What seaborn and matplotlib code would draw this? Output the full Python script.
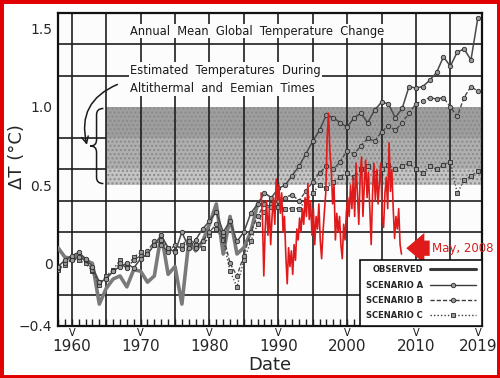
import matplotlib
matplotlib.use("Agg")
import matplotlib.pyplot as plt
import matplotlib.patches as mpatches
import matplotlib.transforms as mtransforms
from matplotlib.path import Path
from matplotlib.lines import Line2D
from matplotlib.ticker import MultipleLocator
import numpy as np
import seaborn as sns

# observed annual means
obs_years = list(range(1958, 1988))
obs_temp = [0.10, 0.04, 0.03, 0.06, 0.02, 0.00, -0.26, -0.16, -0.10, -0.08,
            -0.15, -0.04, -0.05, -0.12, -0.08, 0.19, -0.07, -0.02, -0.26, 0.14,
            0.08, 0.14, 0.25, 0.38, 0.06, 0.30, 0.06, 0.10, 0.20, 0.38]

# model scenarios 1958-2019
model_years = list(range(1958, 2020))
scen_a = [-0.02, 0.02, 0.05, 0.07, 0.03, -0.02, -0.12, -0.10, -0.05, -0.02,
          0.00, -0.03, 0.03, 0.06, 0.12, 0.18, 0.10, 0.07, 0.20, 0.10,
          0.15, 0.22, 0.27, 0.33, 0.20, 0.27, 0.14, 0.20, 0.32, 0.38,
          0.45, 0.42, 0.48, 0.50, 0.56, 0.62, 0.70, 0.78, 0.85, 0.95,
          0.93, 0.90, 0.87, 0.93, 0.96, 0.90, 0.98, 1.03, 1.02, 0.93,
          0.99, 1.13, 1.12, 1.13, 1.17, 1.22, 1.32, 1.26, 1.35, 1.37,
          1.30, 1.57]
scen_b = [-0.03, 0.00, 0.02, 0.04, 0.02, -0.04, -0.12, -0.10, -0.05, 0.00,
          -0.03, 0.02, 0.05, 0.08, 0.14, 0.12, 0.07, 0.12, 0.09, 0.14,
          0.10, 0.14, 0.20, 0.25, 0.18, 0.00, -0.08, 0.05, 0.20, 0.30,
          0.38, 0.36, 0.40, 0.42, 0.44, 0.40, 0.46, 0.52, 0.58, 0.62,
          0.60, 0.65, 0.72, 0.70, 0.75, 0.80, 0.78, 0.84, 0.88, 0.85,
          0.90, 0.96, 1.02, 1.04, 1.06, 1.05, 1.06, 1.00, 0.94, 1.06,
          1.13, 1.10]
scen_c = [-0.04, -0.01, 0.03, 0.02, 0.00, -0.05, -0.14, -0.08, -0.04, 0.02,
          -0.02, 0.04, 0.07, 0.06, 0.12, 0.15, 0.10, 0.08, 0.12, 0.16,
          0.12, 0.10, 0.18, 0.22, 0.15, -0.05, -0.15, 0.02, 0.14, 0.25,
          0.33, 0.38, 0.36, 0.35, 0.35, 0.35, 0.40, 0.45, 0.50, 0.48,
          0.52, 0.55, 0.58, 0.55, 0.60, 0.62, 0.58, 0.60, 0.63, 0.60,
          0.62, 0.64, 0.60, 0.58, 0.62, 0.60, 0.63, 0.65, 0.45, 0.53,
          0.56, 0.59]

# red overlay (monthly anomalies up to May 2008)
red_years = [1987.5, 1987.7, 1987.9, 1988.1, 1988.3, 1988.5, 1988.7, 1988.9, 1989.1, 1989.3,
             1989.5, 1989.7, 1989.9, 1990.1, 1990.3, 1990.5, 1990.7, 1990.9, 1991.1, 1991.3,
             1991.5, 1991.7, 1991.9, 1992.1, 1992.3, 1992.5, 1992.7, 1992.9, 1993.1, 1993.3,
             1993.5, 1993.7, 1993.9, 1994.1, 1994.3, 1994.5, 1994.7, 1994.9, 1995.1, 1995.3,
             1995.5, 1995.7, 1995.9, 1996.1, 1996.3, 1996.5, 1996.7, 1996.9, 1997.1, 1997.3,
             1997.5, 1997.7, 1997.9, 1998.1, 1998.3, 1998.5, 1998.7, 1998.9, 1999.1, 1999.3,
             1999.5, 1999.7, 1999.9, 2000.1, 2000.3, 2000.5, 2000.7, 2000.9, 2001.1, 2001.3,
             2001.5, 2001.7, 2001.9, 2002.1, 2002.3, 2002.5, 2002.7, 2002.9, 2003.1, 2003.3,
             2003.5, 2003.7, 2003.9, 2004.1, 2004.3, 2004.5, 2004.7, 2004.9, 2005.1, 2005.3,
             2005.5, 2005.7, 2005.9, 2006.1, 2006.3, 2006.5, 2006.7, 2006.9, 2007.1, 2007.3,
             2007.5, 2007.7, 2007.9]
red_temp = [0.45, 0.30, -0.08, 0.22, 0.40, 0.18, 0.35, 0.12, 0.30, 0.42,
            0.25, 0.54, 0.40, 0.50, 0.32, 0.45, 0.20, 0.30, 0.05, -0.13,
            0.10, -0.02, 0.08, -0.07, 0.12, 0.02, 0.22, 0.15, 0.29, 0.20,
            0.35, 0.25, 0.42, 0.30, 0.51, 0.28, 0.40, 0.18, 0.35, 0.12,
            0.30, 0.22, 0.38, 0.15, 0.03, 0.20, 0.33, 0.45, 0.80, 0.96,
            0.72, 0.60, 0.38, 0.50, 0.15, 0.32, 0.20, 0.30, 0.12, 0.03,
            0.25, 0.15, 0.33, 0.42, 0.30, 0.50, 0.35, 0.55, 0.30, 0.64,
            0.45, 0.25, 0.55, 0.68, 0.30, 0.50, 0.66, 0.42, 0.58, 0.35,
            0.12, 0.45, 0.64, 0.40, 0.60, 0.38, 0.52, 0.64, 0.30, 0.23,
            0.45, 0.55, 0.35, 0.77, 0.46, 0.60, 0.35, 0.16, 0.30, 0.22,
            0.35, 0.12, 0.06]

# shaded range for Altithermal / Eemian estimates
band_start = 1965
band_edges = [0.5, 0.6, 0.8, 1.0]
band_colors = ["#c4c4c4", "#afafaf", "#9e9e9e"]

x_ticks = [1960, 1970, 1980, 1990, 2000, 2010, 2019]
y_ticks = [-0.4, 0, 0.5, 1.0, 1.5]
y_tick_labels = ["\u22120.4", "0", "0.5", "1.0", "1.5"]

sns.set_theme(style="white")
plt.rcParams["font.family"] = ["DejaVu Sans"]

fig = plt.figure(figsize=(5.0, 3.78), dpi=100)
fig.patch.set_facecolor("white")
ax = fig.add_axes([0.116, 0.1376, 0.848, 0.828])
ax.set_facecolor("#fcfcfc")

x_min, x_max = 1958, 2019.6
ax.set_xlim(x_min, x_max)
ax.set_ylim(-0.4, 1.6)

# shaded band
for lo, hi, c in zip(band_edges[:-1], band_edges[1:], band_colors):
    ax.fill_between([band_start, x_max], lo, hi, color=c, hatch="....",
                    edgecolor="#8a8a8a", linewidth=0, zorder=1)

# grid
ax.yaxis.set_minor_locator(MultipleLocator(0.2))
ax.grid(which="minor", axis="y", color="#1e1e1e", lw=1.2, zorder=2)
ax.grid(which="major", axis="y", visible=False)
ax.vlines(np.arange(1960, 2019, 5), -0.4, 1.6, color="#1e1e1e", lw=1.2, zorder=2)

line_dark = "#4a4a4a"
mk = dict(markersize=3.2, markerfacecolor="#9a9a9a", markeredgecolor="#2a2a2a",
          markeredgewidth=0.6)

sns.lineplot(x=obs_years, y=obs_temp, ax=ax, color="#7a7a7a", lw=2.6,
             errorbar=None, zorder=4)
sns.lineplot(x=model_years, y=scen_c, ax=ax, color=line_dark, lw=1.0,
             linestyle=(0, (1, 1.5)), marker="s", errorbar=None, zorder=5, **mk)
sns.lineplot(x=model_years, y=scen_b, ax=ax, color=line_dark, lw=1.0,
             linestyle=(0, (3, 1.5)), marker="o", errorbar=None, zorder=5, **mk)
sns.lineplot(x=model_years, y=scen_a, ax=ax, color=line_dark, lw=1.1,
             marker="o", errorbar=None, zorder=5, **mk)
sns.lineplot(x=red_years, y=red_temp, ax=ax, color="#e01a1a", lw=1.2,
             errorbar=None, zorder=6)

# ticks
ax.set_xticks(x_ticks)
ax.set_xticklabels([str(t) for t in x_ticks], fontsize=11)
ax.xaxis.set_minor_locator(MultipleLocator(1))
ax.tick_params(axis="x", which="both", direction="in", bottom=True,
               length=5, width=1, color="#1e1e1e", pad=9.5)
# the little "V" marks under each labelled year
vmark = mtransforms.blended_transform_factory(ax.transData, ax.transAxes)
for t in x_ticks:
    ax.text(t, -0.006, "V", transform=vmark, ha="center", va="top",
            fontsize=7, color="#111111", zorder=10, clip_on=False)
ax.set_yticks(y_ticks)
ax.set_yticklabels(y_tick_labels, fontsize=10)
ax.tick_params(axis="y", which="both", length=0, pad=4)
for s in ax.spines.values():
    s.set_color("#111111")
    s.set_linewidth(1.6)

ax.set_xlabel("Date", fontsize=13, labelpad=1)
ax.set_ylabel("\u0394T (\u00b0C)", fontsize=13)
ax.yaxis.set_label_coords(-0.075, 0.54)

# title and band annotation
ax.text(0.47, 0.942, "Annual  Mean  Global  Temperature  Change",
        transform=ax.transAxes, ha="center", va="center", fontsize=8.3,
        color="#1a1a1a", zorder=7,
        bbox=dict(facecolor="#fcfcfc", edgecolor="none", pad=0.5))
ax.text(0.17, 0.789, "Estimated  Temperatures  During\nAltithermal  and  Eemian  Times",
        transform=ax.transAxes, ha="left", va="center", fontsize=8.3,
        linespacing=1.5, color="#1a1a1a", zorder=7,
        bbox=dict(facecolor="#fcfcfc", edgecolor="none", pad=1.0))
ax.annotate("", xy=(1962.3, 0.74), xytext=(1967.0, 1.15),
            arrowprops=dict(arrowstyle="->", color="#1a1a1a", lw=1.1,
                            connectionstyle="arc3,rad=0.45"), zorder=7)

# curly brace next to the band
bx1, bx0, btip = 1964.6, 1963.6, 1962.7
btop, bbot, bmid, bd = 0.99, 0.51, 0.75, 0.04
brace = Path(
    [(bx1, btop), (bx0, btop), (bx0, btop - bd),
     (bx0, bmid + bd),
     (bx0, bmid), (btip, bmid),
     (bx0, bmid), (bx0, bmid - bd),
     (bx0, bbot + bd),
     (bx0, bbot), (bx1, bbot)],
    [Path.MOVETO, Path.CURVE3, Path.CURVE3,
     Path.LINETO,
     Path.CURVE3, Path.CURVE3,
     Path.CURVE3, Path.CURVE3,
     Path.LINETO,
     Path.CURVE3, Path.CURVE3])
ax.add_patch(mpatches.PathPatch(brace, fill=False, edgecolor="#1a1a1a",
                                lw=1.1, zorder=7))

# red pointer
ax.annotate("", xy=(2008.6, 0.097), xytext=(2012.0, 0.097),
            arrowprops=dict(arrowstyle="simple,head_length=1.3,head_width=2.2,tail_width=1.1",
                            mutation_scale=10, shrinkA=0, shrinkB=0,
                            color="#e01a1a", lw=0), zorder=8)
ax.text(2012.3, 0.097, "May, 2008", color="#d42020", fontsize=8.5,
        ha="left", va="center", zorder=8, clip_on=False)

handles = [
    Line2D([], [], color="#3a3a3a", lw=2.2),
    Line2D([], [], color="#3a3a3a", lw=1.0, marker="o", **mk),
    Line2D([], [], color="#3a3a3a", lw=1.0, marker="o", linestyle=(0, (3, 1.5)), **mk),
    Line2D([], [], color="#3a3a3a", lw=1.0, marker="s", linestyle=(0, (1, 1.5)), **mk),
]
labels = ["OBSERVED", "SCENARIO A", "SCENARIO B", "SCENARIO C"]
leg = ax.legend(handles, labels, loc="lower right", markerfirst=False,
                frameon=True, fancybox=False, framealpha=1, edgecolor="#111111",
                borderaxespad=0.0, fontsize=6, handlelength=5.6,
                labelspacing=0.75, numpoints=1, borderpad=0.7)
leg.get_frame().set_facecolor("white")
leg.get_frame().set_linewidth(1.2)
leg.set_zorder(9)
for t in leg.get_texts():
    t.set_fontweight("bold")

# red frame around the picture
fig.patches.append(mpatches.Rectangle((0, 0), 1, 1, transform=fig.transFigure,
                                      fill=False, edgecolor="#e00000", lw=5))

fig.savefig("out.png", dpi=100)
